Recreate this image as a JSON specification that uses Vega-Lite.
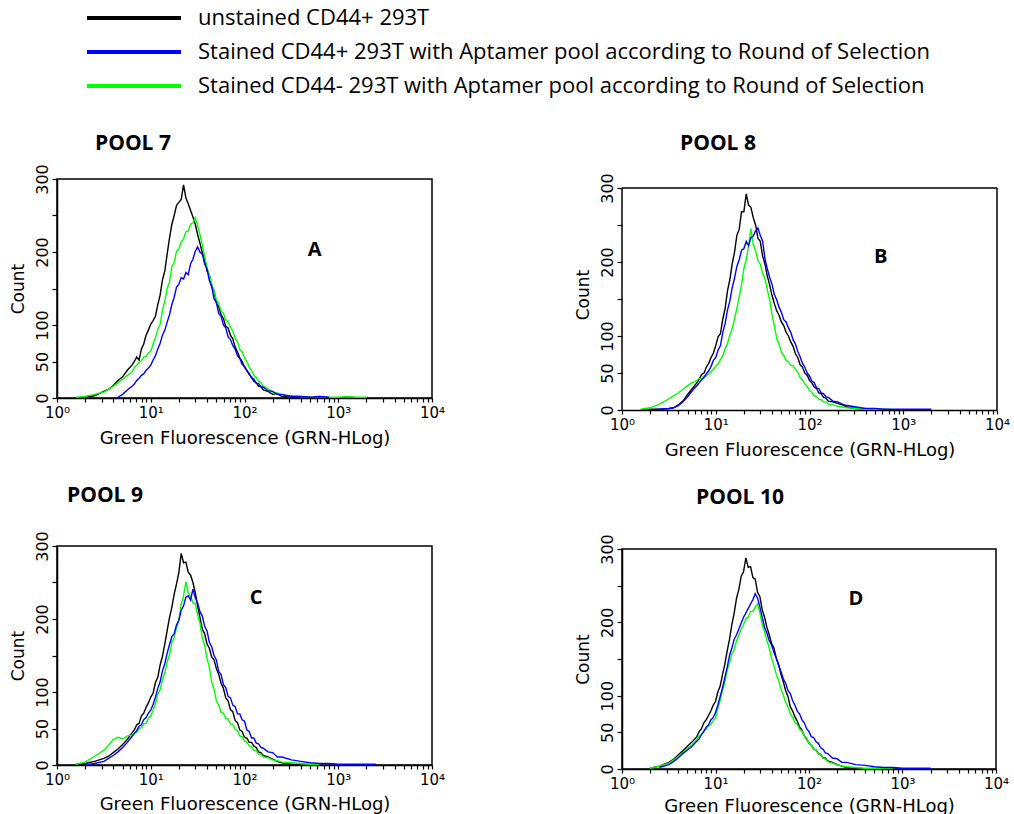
{
"$schema": "https://vega.github.io/schema/vega-lite/v6.json",
"background": "white",
"padding": {"left": 8, "top": 6, "right": 5, "bottom": 0},
"config": {
  "font": "DejaVu Sans",
  "view": {"stroke": "black", "strokeWidth": 1.5},
  "title": {"font": "Open Sans", "fontSize": 21, "fontWeight": "bold", "color": "black", "anchor": "start", "frame": "group"},
  "axisX": {
    "values": [1,2,3,4,5,6,7,8,9,10,20,30,40,50,60,70,80,90,100,200,300,400,500,600,700,800,900,1000,2000,3000,4000,5000,6000,7000,8000,9000,10000],
    "labelExpr": "datum.value == 1 ? '10⁰' : datum.value == 10 ? '10¹' : datum.value == 100 ? '10²' : datum.value == 1000 ? '10³' : datum.value == 10000 ? '10⁴' : ''",
    "labelOverlap": false, "labelFlush": false, "labelBound": false,
    "tickSize": 4, "tickColor": "black", "tickWidth": 1.2,
    "domainColor": "black", "domainWidth": 1.5,
    "labelFontSize": 15, "labelColor": "black", "labelPadding": 3,
    "titleFontSize": 18, "titleFontWeight": "normal", "titleColor": "black", "titlePadding": 9,
    "grid": false
  },
  "axisY": {
    "values": [0,25,50,75,100,125,150,175,200,225,250,275,300],
    "labelExpr": "indexof([0,50,100,200,300], datum.value) >= 0 ? datum.label : ''",
    "labelAngle": -90, "labelOverlap": false, "labelFlush": false, "labelBound": false,
    "tickSize": 5, "tickColor": "black", "tickWidth": 1.2,
    "domainColor": "black", "domainWidth": 1.5,
    "labelFontSize": 16, "labelColor": "black", "labelPadding": 2,
    "titleFontSize": 17, "titleFontWeight": "normal", "titleColor": "black", "titlePadding": 7,
    "grid": false
  },
  "legend": {
    "orient": "none", "legendX": 65, "legendY": -173,
    "symbolType": "M-4.7,0H4.7", "symbolSize": 400, "symbolStrokeWidth": 4,
    "labelFont": "Open Sans", "labelFontSize": 22, "labelColor": "black", "labelOffset": 52, "labelLimit": 1000,
    "rowPadding": 11, "padding": 0
  }
},
"datasets": {
"lab": [
  {"p":"A","x":560,"y":203,"t":"A"},
  {"p":"B","x":575,"y":207,"t":"B"},
  {"p":"C","x":133,"y":229,"t":"C"},
  {"p":"D","x":318,"y":232,"t":"D"}
],
"frame": [
  {"x1":1,"x2":10000,"y1":300,"y2":300},
  {"x1":1,"x2":1,"y1":0,"y2":300},
  {"x1":10000,"x2":10000,"y1":0,"y2":300}
],
"h": [
{"p":"A","x":1.585,"k":0,"b":null,"g":1},
{"p":"A","x":1.995,"k":1,"b":null,"g":2},
{"p":"A","x":2.512,"k":3,"b":null,"g":5},
{"p":"A","x":3.162,"k":9,"b":null,"g":8},
{"p":"A","x":3.548,"k":12,"b":null,"g":12},
{"p":"A","x":3.981,"k":17,"b":null,"g":16},
{"p":"A","x":4.467,"k":24,"b":1,"g":21},
{"p":"A","x":5.012,"k":29,"b":5,"g":26},
{"p":"A","x":5.623,"k":38,"b":11,"g":31},
{"p":"A","x":6.31,"k":45,"b":16,"g":36},
{"p":"A","x":6.683,"k":50,"b":19,"g":42},
{"p":"A","x":7.079,"k":56,"b":24,"g":45},
{"p":"A","x":7.499,"k":52,"b":27,"g":49},
{"p":"A","x":7.943,"k":67,"b":31,"g":51},
{"p":"A","x":8.414,"k":74,"b":33,"g":56},
{"p":"A","x":8.913,"k":86,"b":38,"g":57},
{"p":"A","x":9.441,"k":93,"b":41,"g":62},
{"p":"A","x":10,"k":101,"b":45,"g":64},
{"p":"A","x":10.59,"k":106,"b":52,"g":74},
{"p":"A","x":11.22,"k":112,"b":58,"g":83},
{"p":"A","x":11.89,"k":128,"b":67,"g":94},
{"p":"A","x":12.59,"k":141,"b":75,"g":101},
{"p":"A","x":13.34,"k":162,"b":86,"g":120},
{"p":"A","x":14.13,"k":174,"b":93,"g":133},
{"p":"A","x":14.96,"k":197,"b":104,"g":150},
{"p":"A","x":15.85,"k":219,"b":114,"g":159},
{"p":"A","x":16.79,"k":238,"b":128,"g":180},
{"p":"A","x":17.78,"k":250,"b":138,"g":186},
{"p":"A","x":18.84,"k":264,"b":152,"g":201},
{"p":"A","x":19.95,"k":268,"b":156,"g":204},
{"p":"A","x":21.13,"k":272,"b":165,"g":214},
{"p":"A","x":22.39,"k":292,"b":163,"g":218},
{"p":"A","x":23.71,"k":274,"b":172,"g":228},
{"p":"A","x":25.12,"k":266,"b":169,"g":229},
{"p":"A","x":26.61,"k":257,"b":184,"g":238},
{"p":"A","x":28.18,"k":248,"b":190,"g":240},
{"p":"A","x":29.85,"k":238,"b":201,"g":247},
{"p":"A","x":31.62,"k":224,"b":207,"g":236},
{"p":"A","x":33.5,"k":212,"b":200,"g":224},
{"p":"A","x":35.48,"k":199,"b":197,"g":210},
{"p":"A","x":37.58,"k":189,"b":184,"g":194},
{"p":"A","x":39.81,"k":174,"b":177,"g":178},
{"p":"A","x":42.17,"k":168,"b":161,"g":169},
{"p":"A","x":44.67,"k":152,"b":153,"g":156},
{"p":"A","x":47.32,"k":147,"b":136,"g":147},
{"p":"A","x":50.12,"k":130,"b":131,"g":134},
{"p":"A","x":53.09,"k":125,"b":116,"g":130},
{"p":"A","x":56.23,"k":114,"b":112,"g":119},
{"p":"A","x":59.57,"k":109,"b":100,"g":116},
{"p":"A","x":63.1,"k":98,"b":96,"g":107},
{"p":"A","x":66.83,"k":96,"b":84,"g":105},
{"p":"A","x":70.79,"k":86,"b":80,"g":97},
{"p":"A","x":74.99,"k":81,"b":72,"g":92},
{"p":"A","x":79.43,"k":70,"b":67,"g":82},
{"p":"A","x":84.14,"k":63,"b":58,"g":77},
{"p":"A","x":89.13,"k":55,"b":54,"g":66},
{"p":"A","x":94.41,"k":50,"b":46,"g":63},
{"p":"A","x":100,"k":42,"b":44,"g":55},
{"p":"A","x":105.9,"k":38,"b":37,"g":50},
{"p":"A","x":112.2,"k":32,"b":34,"g":42},
{"p":"A","x":118.9,"k":29,"b":27,"g":38},
{"p":"A","x":125.9,"k":23,"b":26,"g":31},
{"p":"A","x":133.4,"k":21,"b":20,"g":28},
{"p":"A","x":141.3,"k":16,"b":20,"g":23},
{"p":"A","x":149.6,"k":16,"b":15,"g":21},
{"p":"A","x":158.5,"k":11,"b":15,"g":16},
{"p":"A","x":177.8,"k":9,"b":10,"g":13},
{"p":"A","x":199.5,"k":5,"b":9,"g":8},
{"p":"A","x":223.9,"k":6,"b":5,"g":7},
{"p":"A","x":251.2,"k":2,"b":5,"g":4},
{"p":"A","x":316.2,"k":1,"b":2,"g":3},
{"p":"A","x":398.1,"k":0,"b":2,"g":2},
{"p":"A","x":501.2,"k":1,"b":1,"g":1},
{"p":"A","x":631,"k":null,"b":2,"g":2},
{"p":"A","x":794.3,"k":null,"b":1,"g":1},
{"p":"A","x":1000,"k":null,"b":null,"g":1},
{"p":"A","x":1259,"k":null,"b":null,"g":2},
{"p":"A","x":1585,"k":null,"b":null,"g":1},
{"p":"A","x":1995,"k":null,"b":null,"g":1},
{"p":"B","x":1.585,"k":0,"b":null,"g":1},
{"p":"B","x":1.995,"k":1,"b":0,"g":3},
{"p":"B","x":2.512,"k":1,"b":1,"g":8},
{"p":"B","x":3.162,"k":2,"b":2,"g":15},
{"p":"B","x":3.548,"k":3,"b":3,"g":19},
{"p":"B","x":3.981,"k":7,"b":6,"g":23},
{"p":"B","x":4.467,"k":12,"b":11,"g":28},
{"p":"B","x":5.012,"k":21,"b":18,"g":33},
{"p":"B","x":5.623,"k":29,"b":26,"g":37},
{"p":"B","x":6.31,"k":37,"b":33,"g":40},
{"p":"B","x":6.683,"k":42,"b":37,"g":43},
{"p":"B","x":7.079,"k":48,"b":41,"g":42},
{"p":"B","x":7.499,"k":50,"b":44,"g":46},
{"p":"B","x":7.943,"k":58,"b":49,"g":46},
{"p":"B","x":8.414,"k":63,"b":53,"g":49},
{"p":"B","x":8.913,"k":71,"b":59,"g":52},
{"p":"B","x":9.441,"k":77,"b":67,"g":55},
{"p":"B","x":10,"k":87,"b":71,"g":59},
{"p":"B","x":10.59,"k":99,"b":81,"g":62},
{"p":"B","x":11.22,"k":103,"b":87,"g":68},
{"p":"B","x":11.89,"k":123,"b":105,"g":73},
{"p":"B","x":12.59,"k":137,"b":117,"g":83},
{"p":"B","x":13.34,"k":161,"b":135,"g":90},
{"p":"B","x":14.13,"k":176,"b":147,"g":101},
{"p":"B","x":14.96,"k":197,"b":165,"g":110},
{"p":"B","x":15.85,"k":213,"b":178,"g":123},
{"p":"B","x":16.79,"k":236,"b":194,"g":137},
{"p":"B","x":17.78,"k":244,"b":203,"g":153},
{"p":"B","x":18.84,"k":268,"b":216,"g":169},
{"p":"B","x":19.95,"k":268,"b":218,"g":191},
{"p":"B","x":21.13,"k":292,"b":228,"g":203},
{"p":"B","x":22.39,"k":277,"b":222,"g":222},
{"p":"B","x":23.71,"k":274,"b":233,"g":245},
{"p":"B","x":25.12,"k":260,"b":235,"g":224},
{"p":"B","x":26.61,"k":250,"b":242,"g":215},
{"p":"B","x":28.18,"k":232,"b":246,"g":202},
{"p":"B","x":29.85,"k":228,"b":236,"g":197},
{"p":"B","x":31.62,"k":208,"b":228,"g":185},
{"p":"B","x":33.5,"k":197,"b":204,"g":177},
{"p":"B","x":35.48,"k":181,"b":191,"g":163},
{"p":"B","x":37.58,"k":169,"b":179,"g":149},
{"p":"B","x":39.81,"k":155,"b":170,"g":129},
{"p":"B","x":42.17,"k":144,"b":156,"g":114},
{"p":"B","x":44.67,"k":134,"b":149,"g":97},
{"p":"B","x":47.32,"k":128,"b":139,"g":89},
{"p":"B","x":50.12,"k":119,"b":132,"g":78},
{"p":"B","x":53.09,"k":114,"b":122,"g":74},
{"p":"B","x":56.23,"k":105,"b":119,"g":67},
{"p":"B","x":59.57,"k":100,"b":111,"g":65},
{"p":"B","x":63.1,"k":92,"b":105,"g":60},
{"p":"B","x":66.83,"k":86,"b":95,"g":60},
{"p":"B","x":70.79,"k":76,"b":89,"g":55},
{"p":"B","x":74.99,"k":71,"b":79,"g":51},
{"p":"B","x":79.43,"k":61,"b":72,"g":44},
{"p":"B","x":84.14,"k":58,"b":63,"g":41},
{"p":"B","x":89.13,"k":50,"b":58,"g":35},
{"p":"B","x":94.41,"k":47,"b":50,"g":32},
{"p":"B","x":100,"k":40,"b":46,"g":26},
{"p":"B","x":105.9,"k":37,"b":39,"g":24},
{"p":"B","x":112.2,"k":31,"b":37,"g":19},
{"p":"B","x":118.9,"k":29,"b":30,"g":18},
{"p":"B","x":125.9,"k":23,"b":29,"g":14},
{"p":"B","x":133.4,"k":22,"b":23,"g":14},
{"p":"B","x":141.3,"k":17,"b":22,"g":11},
{"p":"B","x":149.6,"k":16,"b":18,"g":11},
{"p":"B","x":158.5,"k":12,"b":17,"g":8},
{"p":"B","x":177.8,"k":11,"b":12,"g":7},
{"p":"B","x":199.5,"k":9,"b":11,"g":5},
{"p":"B","x":223.9,"k":7,"b":8,"g":4},
{"p":"B","x":251.2,"k":4,"b":6,"g":3},
{"p":"B","x":316.2,"k":2,"b":4,"g":2},
{"p":"B","x":398.1,"k":1,"b":2,"g":1},
{"p":"B","x":501.2,"k":1,"b":2,"g":1},
{"p":"B","x":631,"k":0,"b":1,"g":1},
{"p":"B","x":794.3,"k":null,"b":1,"g":0},
{"p":"B","x":1000,"k":null,"b":1,"g":null},
{"p":"B","x":1259,"k":null,"b":1,"g":null},
{"p":"B","x":1585,"k":null,"b":1,"g":null},
{"p":"B","x":1995,"k":null,"b":1,"g":null},
{"p":"C","x":1.585,"k":0,"b":null,"g":1},
{"p":"C","x":1.995,"k":2,"b":0,"g":4},
{"p":"C","x":2.512,"k":5,"b":2,"g":12},
{"p":"C","x":3.162,"k":9,"b":5,"g":20},
{"p":"C","x":3.548,"k":12,"b":9,"g":27},
{"p":"C","x":3.981,"k":17,"b":13,"g":35},
{"p":"C","x":4.467,"k":22,"b":18,"g":38},
{"p":"C","x":5.012,"k":28,"b":24,"g":36},
{"p":"C","x":5.623,"k":35,"b":31,"g":40},
{"p":"C","x":6.31,"k":44,"b":39,"g":41},
{"p":"C","x":6.683,"k":48,"b":43,"g":44},
{"p":"C","x":7.079,"k":55,"b":47,"g":45},
{"p":"C","x":7.499,"k":57,"b":53,"g":50},
{"p":"C","x":7.943,"k":67,"b":55,"g":51},
{"p":"C","x":8.414,"k":71,"b":62,"g":56},
{"p":"C","x":8.913,"k":79,"b":65,"g":57},
{"p":"C","x":9.441,"k":85,"b":71,"g":64},
{"p":"C","x":10,"k":93,"b":75,"g":67},
{"p":"C","x":10.59,"k":98,"b":83,"g":75},
{"p":"C","x":11.22,"k":113,"b":93,"g":84},
{"p":"C","x":11.89,"k":120,"b":105,"g":97},
{"p":"C","x":12.59,"k":137,"b":114,"g":103},
{"p":"C","x":13.34,"k":149,"b":129,"g":117},
{"p":"C","x":14.13,"k":166,"b":139,"g":127},
{"p":"C","x":14.96,"k":184,"b":153,"g":141},
{"p":"C","x":15.85,"k":202,"b":165,"g":151},
{"p":"C","x":16.79,"k":216,"b":176,"g":168},
{"p":"C","x":17.78,"k":234,"b":180,"g":175},
{"p":"C","x":18.84,"k":248,"b":192,"g":188},
{"p":"C","x":19.95,"k":264,"b":198,"g":200},
{"p":"C","x":21.13,"k":290,"b":212,"g":220},
{"p":"C","x":22.39,"k":277,"b":218,"g":232},
{"p":"C","x":23.71,"k":278,"b":230,"g":251},
{"p":"C","x":25.12,"k":264,"b":232,"g":236},
{"p":"C","x":26.61,"k":260,"b":226,"g":231},
{"p":"C","x":28.18,"k":250,"b":241,"g":222},
{"p":"C","x":29.85,"k":236,"b":229,"g":221},
{"p":"C","x":31.62,"k":218,"b":222,"g":206},
{"p":"C","x":33.5,"k":202,"b":210,"g":194},
{"p":"C","x":35.48,"k":186,"b":204,"g":174},
{"p":"C","x":37.58,"k":180,"b":190,"g":164},
{"p":"C","x":39.81,"k":166,"b":184,"g":146},
{"p":"C","x":42.17,"k":160,"b":168,"g":134},
{"p":"C","x":44.67,"k":148,"b":162,"g":114},
{"p":"C","x":47.32,"k":144,"b":150,"g":104},
{"p":"C","x":50.12,"k":132,"b":144,"g":88},
{"p":"C","x":53.09,"k":124,"b":128,"g":82},
{"p":"C","x":56.23,"k":112,"b":124,"g":72},
{"p":"C","x":59.57,"k":105,"b":110,"g":71},
{"p":"C","x":63.1,"k":92,"b":106,"g":64},
{"p":"C","x":66.83,"k":88,"b":94,"g":63},
{"p":"C","x":70.79,"k":76,"b":92,"g":56},
{"p":"C","x":74.99,"k":73,"b":82,"g":56},
{"p":"C","x":79.43,"k":61,"b":80,"g":49},
{"p":"C","x":84.14,"k":58,"b":70,"g":47},
{"p":"C","x":89.13,"k":48,"b":70,"g":40},
{"p":"C","x":94.41,"k":46,"b":62,"g":39},
{"p":"C","x":100,"k":38,"b":60,"g":33},
{"p":"C","x":105.9,"k":37,"b":48,"g":31},
{"p":"C","x":112.2,"k":31,"b":46,"g":26},
{"p":"C","x":118.9,"k":31,"b":37,"g":25},
{"p":"C","x":125.9,"k":26,"b":37,"g":20},
{"p":"C","x":133.4,"k":24,"b":30,"g":20},
{"p":"C","x":141.3,"k":18,"b":29,"g":15},
{"p":"C","x":149.6,"k":17,"b":24,"g":15},
{"p":"C","x":158.5,"k":13,"b":23,"g":11},
{"p":"C","x":177.8,"k":11,"b":18,"g":10},
{"p":"C","x":199.5,"k":8,"b":17,"g":7},
{"p":"C","x":223.9,"k":5,"b":11,"g":6},
{"p":"C","x":251.2,"k":3,"b":11,"g":4},
{"p":"C","x":316.2,"k":1,"b":7,"g":3},
{"p":"C","x":398.1,"k":0,"b":5,"g":2},
{"p":"C","x":501.2,"k":null,"b":3,"g":1},
{"p":"C","x":631,"k":null,"b":2,"g":1},
{"p":"C","x":794.3,"k":null,"b":2,"g":null},
{"p":"C","x":1000,"k":null,"b":1,"g":null},
{"p":"C","x":1259,"k":null,"b":1,"g":null},
{"p":"C","x":1585,"k":null,"b":1,"g":null},
{"p":"C","x":1995,"k":null,"b":1,"g":null},
{"p":"C","x":2512,"k":null,"b":1,"g":null},
{"p":"D","x":1.995,"k":1,"b":null,"g":1},
{"p":"D","x":2.512,"k":4,"b":2,"g":4},
{"p":"D","x":3.162,"k":9,"b":6,"g":8},
{"p":"D","x":3.548,"k":13,"b":10,"g":12},
{"p":"D","x":3.981,"k":19,"b":15,"g":17},
{"p":"D","x":4.467,"k":25,"b":21,"g":22},
{"p":"D","x":5.012,"k":31,"b":26,"g":28},
{"p":"D","x":5.623,"k":37,"b":31,"g":33},
{"p":"D","x":6.31,"k":44,"b":38,"g":40},
{"p":"D","x":6.683,"k":51,"b":41,"g":45},
{"p":"D","x":7.079,"k":55,"b":47,"g":47},
{"p":"D","x":7.499,"k":63,"b":51,"g":53},
{"p":"D","x":7.943,"k":67,"b":57,"g":54},
{"p":"D","x":8.414,"k":73,"b":60,"g":59},
{"p":"D","x":8.913,"k":79,"b":67,"g":61},
{"p":"D","x":9.441,"k":87,"b":70,"g":66},
{"p":"D","x":10,"k":92,"b":77,"g":69},
{"p":"D","x":10.59,"k":105,"b":87,"g":83},
{"p":"D","x":11.22,"k":113,"b":99,"g":93},
{"p":"D","x":11.89,"k":129,"b":111,"g":107},
{"p":"D","x":12.59,"k":143,"b":125,"g":119},
{"p":"D","x":13.34,"k":161,"b":139,"g":135},
{"p":"D","x":14.13,"k":177,"b":155,"g":145},
{"p":"D","x":14.96,"k":197,"b":165,"g":157},
{"p":"D","x":15.85,"k":213,"b":177,"g":163},
{"p":"D","x":16.79,"k":233,"b":183,"g":175},
{"p":"D","x":17.78,"k":245,"b":191,"g":183},
{"p":"D","x":18.84,"k":263,"b":199,"g":191},
{"p":"D","x":19.95,"k":269,"b":207,"g":197},
{"p":"D","x":21.13,"k":288,"b":213,"g":205},
{"p":"D","x":22.39,"k":275,"b":219,"g":207},
{"p":"D","x":23.71,"k":276,"b":225,"g":215},
{"p":"D","x":25.12,"k":261,"b":231,"g":215},
{"p":"D","x":26.61,"k":259,"b":239,"g":221},
{"p":"D","x":28.18,"k":241,"b":233,"g":225},
{"p":"D","x":29.85,"k":235,"b":221,"g":213},
{"p":"D","x":31.62,"k":217,"b":207,"g":197},
{"p":"D","x":33.5,"k":207,"b":193,"g":187},
{"p":"D","x":35.48,"k":193,"b":185,"g":175},
{"p":"D","x":37.58,"k":183,"b":175,"g":165},
{"p":"D","x":39.81,"k":171,"b":169,"g":151},
{"p":"D","x":42.17,"k":165,"b":159,"g":141},
{"p":"D","x":44.67,"k":151,"b":151,"g":129},
{"p":"D","x":47.32,"k":143,"b":141,"g":121},
{"p":"D","x":50.12,"k":129,"b":133,"g":109},
{"p":"D","x":53.09,"k":119,"b":123,"g":101},
{"p":"D","x":56.23,"k":107,"b":117,"g":91},
{"p":"D","x":59.57,"k":99,"b":107,"g":85},
{"p":"D","x":63.1,"k":85,"b":103,"g":75},
{"p":"D","x":66.83,"k":79,"b":93,"g":71},
{"p":"D","x":70.79,"k":71,"b":87,"g":63},
{"p":"D","x":74.99,"k":65,"b":79,"g":61},
{"p":"D","x":79.43,"k":57,"b":75,"g":54},
{"p":"D","x":84.14,"k":53,"b":67,"g":52},
{"p":"D","x":89.13,"k":45,"b":63,"g":45},
{"p":"D","x":94.41,"k":41,"b":55,"g":42},
{"p":"D","x":100,"k":35,"b":51,"g":35},
{"p":"D","x":105.9,"k":33,"b":44,"g":33},
{"p":"D","x":112.2,"k":27,"b":43,"g":27},
{"p":"D","x":118.9,"k":26,"b":37,"g":26},
{"p":"D","x":125.9,"k":21,"b":35,"g":21},
{"p":"D","x":133.4,"k":20,"b":29,"g":20},
{"p":"D","x":141.3,"k":15,"b":27,"g":15},
{"p":"D","x":149.6,"k":15,"b":22,"g":14},
{"p":"D","x":158.5,"k":11,"b":21,"g":10},
{"p":"D","x":177.8,"k":9,"b":15,"g":8},
{"p":"D","x":199.5,"k":6,"b":14,"g":6},
{"p":"D","x":223.9,"k":4,"b":9,"g":4},
{"p":"D","x":251.2,"k":2,"b":9,"g":3},
{"p":"D","x":316.2,"k":1,"b":6,"g":2},
{"p":"D","x":398.1,"k":0,"b":5,"g":1},
{"p":"D","x":501.2,"k":null,"b":3,"g":1},
{"p":"D","x":631,"k":null,"b":2,"g":1},
{"p":"D","x":794.3,"k":null,"b":2,"g":0},
{"p":"D","x":1000,"k":null,"b":1,"g":null},
{"p":"D","x":1259,"k":null,"b":1,"g":null},
{"p":"D","x":1585,"k":null,"b":1,"g":null},
{"p":"D","x":1995,"k":null,"b":1,"g":null}
]
},
"spacing": 127,
"hconcat": [
 {"spacing": 35, "vconcat": [
  {"width": 375, "height": 219,
   "title": {"text": "POOL 7", "dx": 38, "offset": 10},
   "layer": [
    {"data": {"name": "h"},
     "transform": [{"filter": "datum.p == 'A'"}, {"fold": ["k","b","g"], "as": ["s","c"]}, {"filter": "datum.c != null"}],
     "mark": {"type": "line", "strokeWidth": 1.4, "clip": true},
     "encoding": {
      "x": {"field": "x", "type": "quantitative", "title": "Green Fluorescence (GRN-HLog)", "scale": {"type": "log", "domain": [1,10000], "nice": false}},
      "y": {"field": "c", "type": "quantitative", "title": "Count", "scale": {"domain": [0,300], "nice": false}},
      "color": {"field": "s", "type": "nominal", "scale": {"domain": ["k","b","g"], "range": ["#000000","#0000ff","#00ff00"]},
        "legend": {"title": null, "labelExpr": "datum.value == 'k' ? 'unstained CD44+ 293T' : datum.value == 'b' ? 'Stained CD44+ 293T with Aptamer pool according to Round of Selection' : 'Stained CD44- 293T with Aptamer pool according to Round of Selection'"}}
     }},
    {"data": {"name": "lab"}, "transform": [{"filter": "datum.p == 'A'"}],
     "mark": {"type": "text", "font": "Open Sans", "fontSize": 20, "fontWeight": "bold", "color": "black"},
     "encoding": {"x": {"field": "x", "type": "quantitative", "title": "Green Fluorescence (GRN-HLog)"}, "y": {"field": "y", "type": "quantitative", "title": "Count"}, "text": {"field": "t"}}}
   ]},
  {"width": 375, "height": 219,
   "title": {"text": "POOL 9", "dx": 10, "offset": 25},
   "layer": [
    {"data": {"name": "h"},
     "transform": [{"filter": "datum.p == 'C'"}, {"fold": ["k","b","g"], "as": ["s","c"]}, {"filter": "datum.c != null"}],
     "mark": {"type": "line", "strokeWidth": 1.4, "clip": true},
     "encoding": {
      "x": {"field": "x", "type": "quantitative", "title": "Green Fluorescence (GRN-HLog)", "scale": {"type": "log", "domain": [1,10000], "nice": false}, "axis": {"titlePadding": 8}},
      "y": {"field": "c", "type": "quantitative", "title": "Count", "scale": {"domain": [0,300], "nice": false}},
      "color": {"field": "s", "type": "nominal", "scale": {"domain": ["k","b","g"], "range": ["#000000","#0000ff","#00ff00"]},
        "legend": {"title": null, "labelExpr": "datum.value == 'k' ? 'unstained CD44+ 293T' : datum.value == 'b' ? 'Stained CD44+ 293T with Aptamer pool according to Round of Selection' : 'Stained CD44- 293T with Aptamer pool according to Round of Selection'"}}
     }},
    {"data": {"name": "lab"}, "transform": [{"filter": "datum.p == 'C'"}],
     "mark": {"type": "text", "font": "Open Sans", "fontSize": 20, "fontWeight": "bold", "color": "black"},
     "encoding": {"x": {"field": "x", "type": "quantitative", "title": "Green Fluorescence (GRN-HLog)"}, "y": {"field": "y", "type": "quantitative", "title": "Count"}, "text": {"field": "t"}}}
   ]}
 ]},
 {"spacing": 26, "vconcat": [
  {"width": 375, "height": 231,
   "view": {"stroke": null},
   "title": {"text": "POOL 8", "dx": 58, "offset": 19},
   "layer": [
    {"data": {"name": "h"},
     "transform": [{"filter": "datum.p == 'B'"}, {"fold": ["k","b","g"], "as": ["s","c"]}, {"filter": "datum.c != null"}],
     "mark": {"type": "line", "strokeWidth": 1.4, "clip": true},
     "encoding": {
      "x": {"field": "x", "type": "quantitative", "title": "Green Fluorescence (GRN-HLog)", "scale": {"type": "log", "domain": [1,10000], "nice": false}},
      "y": {"field": "c", "type": "quantitative", "title": "Count", "scale": {"domain": [0,312.16], "nice": false}, "axis": {"domain": false}},
      "color": {"field": "s", "type": "nominal", "scale": {"domain": ["k","b","g"], "range": ["#000000","#0000ff","#00ff00"]},
        "legend": {"title": null, "labelExpr": "datum.value == 'k' ? 'unstained CD44+ 293T' : datum.value == 'b' ? 'Stained CD44+ 293T with Aptamer pool according to Round of Selection' : 'Stained CD44- 293T with Aptamer pool according to Round of Selection'"}}
     }},
    {"data": {"name": "frame"},
     "mark": {"type": "rule", "color": "black", "strokeWidth": 1.5, "clip": false},
     "encoding": {"x": {"field": "x1", "type": "quantitative", "title": "Green Fluorescence (GRN-HLog)"}, "x2": {"field": "x2"}, "y": {"field": "y1", "type": "quantitative", "title": "Count"}, "y2": {"field": "y2"}}},
    {"data": {"name": "lab"}, "transform": [{"filter": "datum.p == 'B'"}],
     "mark": {"type": "text", "font": "Open Sans", "fontSize": 20, "fontWeight": "bold", "color": "black"},
     "encoding": {"x": {"field": "x", "type": "quantitative", "title": "Green Fluorescence (GRN-HLog)"}, "y": {"field": "y", "type": "quantitative", "title": "Count"}, "text": {"field": "t"}}}
   ]},
  {"width": 374, "height": 220,
   "title": {"text": "POOL 10", "dx": 74, "offset": 26},
   "layer": [
    {"data": {"name": "h"},
     "transform": [{"filter": "datum.p == 'D'"}, {"fold": ["k","b","g"], "as": ["s","c"]}, {"filter": "datum.c != null"}],
     "mark": {"type": "line", "strokeWidth": 1.4, "clip": true},
     "encoding": {
      "x": {"field": "x", "type": "quantitative", "title": "Green Fluorescence (GRN-HLog)", "scale": {"type": "log", "domain": [1,10000], "nice": false}, "axis": {"titlePadding": 6}},
      "y": {"field": "c", "type": "quantitative", "title": "Count", "scale": {"domain": [0,300], "nice": false}},
      "color": {"field": "s", "type": "nominal", "scale": {"domain": ["k","b","g"], "range": ["#000000","#0000ff","#00ff00"]},
        "legend": {"title": null, "labelExpr": "datum.value == 'k' ? 'unstained CD44+ 293T' : datum.value == 'b' ? 'Stained CD44+ 293T with Aptamer pool according to Round of Selection' : 'Stained CD44- 293T with Aptamer pool according to Round of Selection'"}}
     }},
    {"data": {"name": "lab"}, "transform": [{"filter": "datum.p == 'D'"}],
     "mark": {"type": "text", "font": "Open Sans", "fontSize": 20, "fontWeight": "bold", "color": "black"},
     "encoding": {"x": {"field": "x", "type": "quantitative", "title": "Green Fluorescence (GRN-HLog)"}, "y": {"field": "y", "type": "quantitative", "title": "Count"}, "text": {"field": "t"}}}
   ]}
 ]}
]
}
